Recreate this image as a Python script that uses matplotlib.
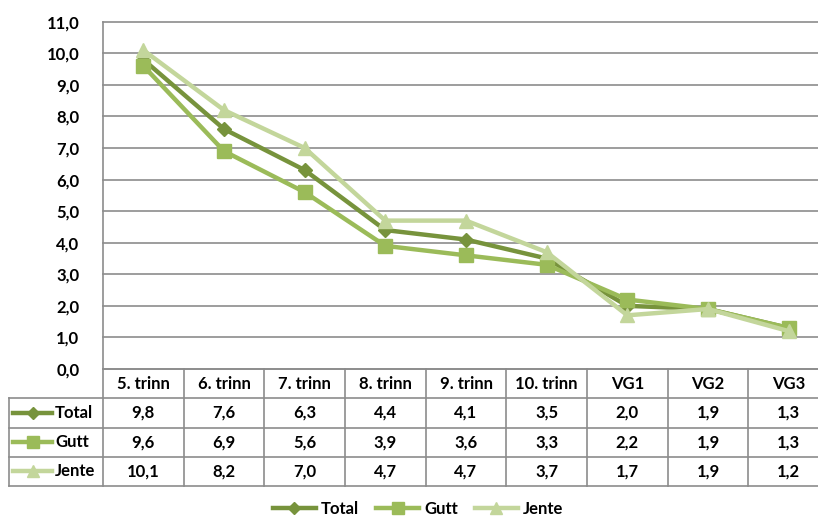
import matplotlib.pyplot as plt
from matplotlib.lines import Line2D

categories = ['5. trinn', '6. trinn', '7. trinn', '8. trinn', '9. trinn',
              '10. trinn', 'VG1', 'VG2', 'VG3']
total = [9.8, 7.6, 6.3, 4.4, 4.1, 3.5, 2.0, 1.9, 1.3]
gutt = [9.6, 6.9, 5.6, 3.9, 3.6, 3.3, 2.2, 1.9, 1.3]
jente = [10.1, 8.2, 7.0, 4.7, 4.7, 3.7, 1.7, 1.9, 1.2]
series_names = ['Total', 'Gutt', 'Jente']
yticks = [i for i in range(12)]

colors = ['#77933c', '#9bbb59', '#c3d69b']
markers = ['D', 's', '^']
msizes = [7.5, 10, 10.5]
grid_c = '#8c8c8c'

plt.rcParams['font.family'] = ['Lato', 'DejaVu Sans']
plt.rcParams['font.weight'] = 'bold'

W, H = 818, 518
fig = plt.figure(figsize=(W / 100, H / 100), dpi=100)

# main plot area in pixel terms
left, right, top, bottom = 103, 829, 21.7, 369
ax = fig.add_axes([left / W, (H - bottom) / H, (right - left) / W, (bottom - top) / H])
x = list(range(len(categories)))
all_series = [total, gutt, jente]
for vals, c, m, ms, name in zip(all_series, colors, markers, msizes, series_names):
    ax.plot(x, vals, color=c, lw=3.2, marker=m, ms=ms, mec=c, mfc=c, label=name,
            clip_on=False, zorder=3)
ax.set_xlim(-0.5, 8.5)
ax.set_ylim(0, 11)
ax.set_yticks(yticks)
ax.set_yticklabels([f'{v:.1f}'.replace('.', ',') for v in yticks], fontsize=12,
                   fontweight='bold')
ax.tick_params(axis='y', length=0, pad=17)
ax.set_xticks([])
for y in yticks:
    ax.axhline(y, color=grid_c, lw=1.2, zorder=1, clip_on=False)
for s in ['top', 'right', 'bottom']:
    ax.spines[s].set_visible(False)
ax.spines['left'].set_color(grid_c)
ax.spines['left'].set_linewidth(1.2)

# data table below
tleft, tbottom = 9, 486
tab = fig.add_axes([tleft / W, (H - tbottom) / H, (right - tleft) / W, (tbottom - bottom) / H])
x0 = -0.5 - (left - tleft) / ((right - left) / 9)
tab.set_xlim(x0, 8.5)
tab.set_ylim(4, 0)
tab.axis('off')
lk = dict(color=grid_c, lw=1.2, clip_on=False)
tab.plot([-0.5, 8.5], [0, 0], **lk)
for r in range(1, 5):
    tab.plot([x0, 8.5], [r, r], **lk)
for i in range(10):
    tab.plot([-0.5 + i, -0.5 + i], [0, 4], **lk)
tab.plot([x0, x0], [1, 4], **lk)

for i, cat in enumerate(categories):
    tab.text(i, 0.5, cat, ha='center', va='center', fontsize=12, fontweight='bold')
for r, vals in enumerate(all_series, start=1):
    for i, v in enumerate(vals):
        tab.text(i, r + 0.5, f'{v:.1f}'.replace('.', ','), ha='center', va='center',
                 fontsize=12, fontweight='bold')

px = (right - left) / 9
for r, (name, c, m, ms) in enumerate(zip(series_names, colors, markers, msizes), start=1):
    xa = x0 + 4 / px
    xb = x0 + 43 / px
    tab.plot([xa, xb], [r + 0.5, r + 0.5], color=c, lw=3.2, clip_on=False)
    tab.plot([(xa + xb) / 2], [r + 0.5], marker=m, ms=ms * 0.8, color=c, clip_on=False)
    tab.text(x0 + 46 / px, r + 0.5, name, ha='left', va='center', fontsize=12,
             fontweight='bold')

handles = [Line2D([], [], color=c, lw=3.2, marker=m, ms=ms * 0.8)
           for c, m, ms in zip(colors, markers, msizes)]
fig.legend(handles, series_names, loc='center', bbox_to_anchor=(418 / W, 9 / H),
           ncol=3, frameon=False, fontsize=12, handlelength=2.6, columnspacing=1.0,
           handletextpad=0.3, borderpad=0.1)

fig.savefig('out.png', dpi=100)
